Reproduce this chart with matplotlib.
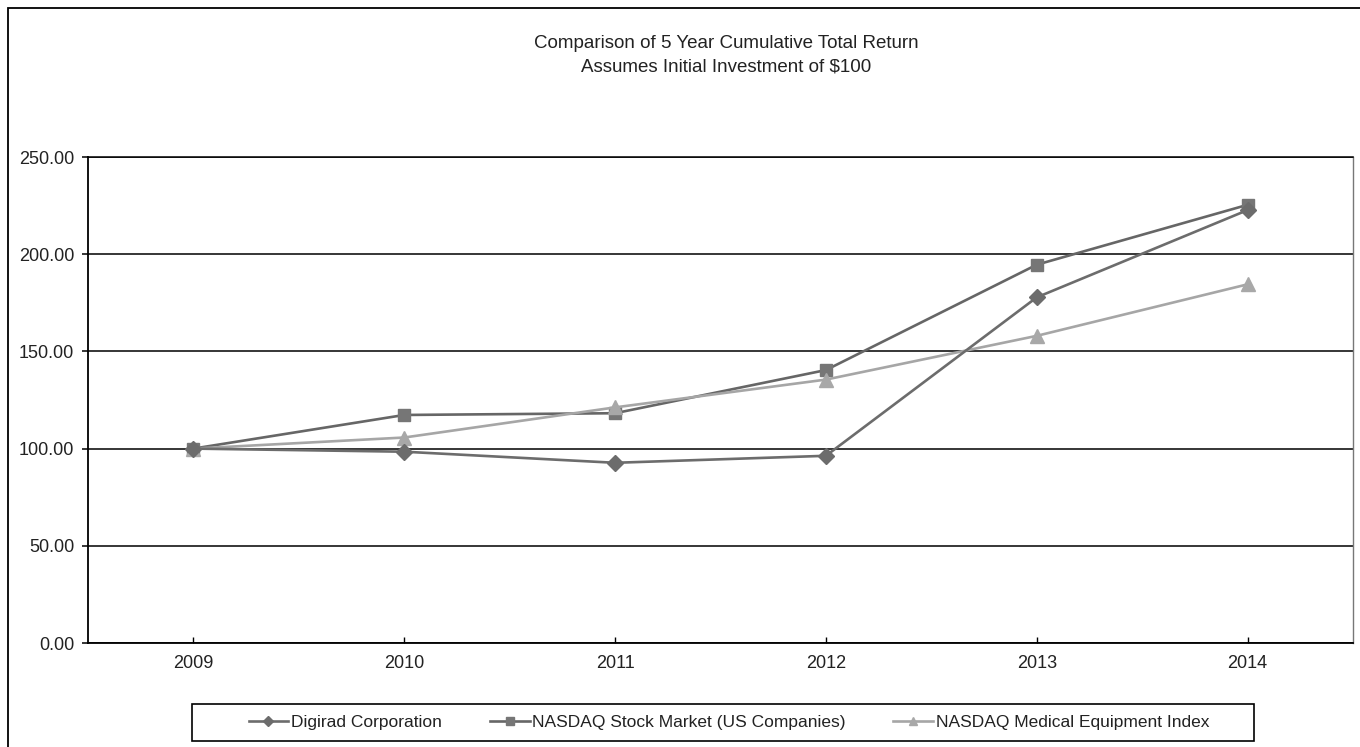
import matplotlib
matplotlib.use('Agg')
import matplotlib.pyplot as plt
from matplotlib.patches import Rectangle

# data
years = ['2009', '2010', '2011', '2012', '2013', '2014']
digirad = [100.0, 98.4, 92.7, 96.3, 177.8, 222.7]
nasdaq = [100.0, 117.3, 118.2, 140.4, 194.6, 225.4]
medical = [100.0, 105.7, 121.2, 135.5, 158.0, 184.5]
y_ticks = [0, 50, 100, 150, 200, 250]

plt.rcParams['font.family'] = ['Liberation Sans', 'DejaVu Sans']

W, H = 1360, 747
fig = plt.figure(figsize=(W / 100, H / 100), dpi=100)
fig.patch.set_facecolor('white')

# plot area in pixel terms: x 88..1353, y 157..643
ax = fig.add_axes([88 / W, 1 - 643 / H, (1353 - 88) / W, (643 - 157) / H])

x = list(range(len(years)))
ax.plot(x, digirad, color='#6c6c6c', lw=1.9, marker='D', ms=8,
        mfc='#6c6c6c', mec='#6c6c6c', label='Digirad Corporation', zorder=4)
ax.plot(x, nasdaq, color='#666666', lw=1.9, marker='s', ms=9,
        mfc='#767676', mec='#767676', label='NASDAQ Stock Market (US Companies)', zorder=3)
ax.plot(x, medical, color='#a6a6a6', lw=1.9, marker='^', ms=10,
        mfc='#a8a8a8', mec='#a8a8a8', label='NASDAQ Medical Equipment Index', zorder=3.5)

ax.set_xlim(-0.5, len(years) - 0.5)
ax.set_ylim(0, 250)
ax.set_xticks(x)
ax.set_xticklabels(years)
ax.set_yticks(y_ticks)
ax.set_yticklabels([f'{v:.2f}' for v in y_ticks])

ax.grid(axis='y', color='black', lw=1.1, zorder=1)
ax.set_axisbelow(True)

ax.spines['left'].set_color('black')
ax.spines['left'].set_linewidth(1.3)
ax.spines['bottom'].set_color('black')
ax.spines['bottom'].set_linewidth(1.3)
ax.spines['top'].set_color('black')
ax.spines['top'].set_linewidth(1.1)
ax.spines['right'].set_color('#777777')
ax.spines['right'].set_linewidth(1.0)

ax.tick_params(axis='y', direction='out', length=4, width=1.1, pad=6,
               labelsize=13, colors='#222222')
ax.tick_params(axis='x', direction='in', length=4, width=1.0, pad=9,
               labelsize=13, colors='#222222')
for lbl in ax.get_xticklabels() + ax.get_yticklabels():
    lbl.set_color('#222222')
ax.tick_params(axis='both', color='black')

# two-line title
fig.text(726 / W, 1 - 43 / H, 'Comparison of 5 Year Cumulative Total Return',
         ha='center', va='center', fontsize=13.5, color='#222222')
fig.text(726 / W, 1 - 67 / H, 'Assumes Initial Investment of $100',
         ha='center', va='center', fontsize=13.5, color='#222222')

# legend without frame, box drawn separately to match its size
leg = fig.legend(loc='center', bbox_to_anchor=(729 / W, 1 - 722.5 / H), ncol=3,
                 frameon=False, fontsize=12.5, handlelength=2.3, handletextpad=0.15,
                 columnspacing=2.75, markerscale=0.6)
for t in leg.get_texts():
    t.set_color('#222222')
fig.add_artist(Rectangle((192 / W, 1 - 741 / H), (1254 - 192) / W, 37 / H,
                         transform=fig.transFigure, fill=False,
                         edgecolor='black', lw=1.2))

# outer chart frame (only left and top edges visible in the image)
fig.add_artist(Rectangle((8 / W, -0.1), 2.0, (1 - 8 / H) + 0.1,
                         transform=fig.transFigure, fill=False,
                         edgecolor='black', lw=1.3))

fig.savefig('out.png', dpi=100)
plt.close(fig)
